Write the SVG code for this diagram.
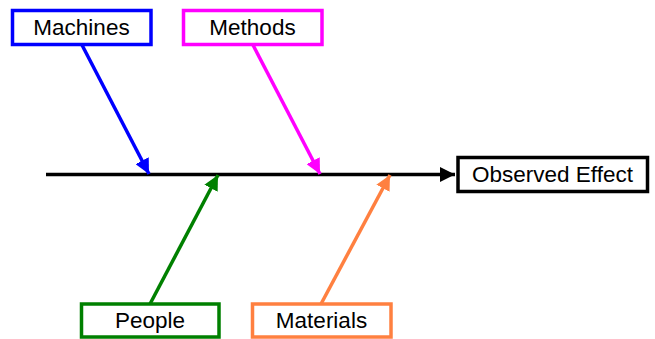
<svg xmlns="http://www.w3.org/2000/svg" width="655" height="339" viewBox="0 0 655 339">
<defs>
<style>
.box{fill:#fff;stroke-width:3.5}
.lbl{font-family:"Liberation Sans",Arial,sans-serif;font-size:22.5px;fill:#000;text-anchor:middle}
.conn{fill:none;stroke-width:3.5}
</style>
<marker id="aK" markerUnits="userSpaceOnUse" markerWidth="15" markerHeight="15" refX="15" refY="7.5" orient="auto"><path d="M0,0 L15,7.5 L0,15 z" fill="#000"/></marker>
<marker id="aB" markerUnits="userSpaceOnUse" markerWidth="15" markerHeight="15" refX="15" refY="7.5" orient="auto"><path d="M0,0 L15,7.5 L0,15 z" fill="#0000FF"/></marker>
<marker id="aM" markerUnits="userSpaceOnUse" markerWidth="15" markerHeight="15" refX="15" refY="7.5" orient="auto"><path d="M0,0 L15,7.5 L0,15 z" fill="#FF00FF"/></marker>
<marker id="aG" markerUnits="userSpaceOnUse" markerWidth="15" markerHeight="15" refX="15" refY="7.5" orient="auto"><path d="M0,0 L15,7.5 L0,15 z" fill="#008000"/></marker>
<marker id="aO" markerUnits="userSpaceOnUse" markerWidth="15" markerHeight="15" refX="15" refY="7.5" orient="auto"><path d="M0,0 L15,7.5 L0,15 z" fill="#FF8040"/></marker>
</defs>
<g id="connectors">
<line class="conn" x1="46" y1="174.5" x2="455" y2="174.5" stroke="#000" marker-end="url(#aK)"/>
<line class="conn" x1="82" y1="45" x2="149" y2="174" stroke="#0000FF" marker-end="url(#aB)"/>
<line class="conn" x1="253" y1="45" x2="320" y2="174" stroke="#FF00FF" marker-end="url(#aM)"/>
<line class="conn" x1="150" y1="304" x2="218" y2="175" stroke="#008000" marker-end="url(#aG)"/>
<line class="conn" x1="321" y1="304" x2="390" y2="175" stroke="#FF8040" marker-end="url(#aO)"/>
</g>
<g id="machines">
<rect class="box" x="12.5" y="10.5" width="138.5" height="34" stroke="#0000FF"/>
<text class="lbl" x="81.5" y="35">Machines</text>
</g>
<g id="methods">
<rect class="box" x="183.5" y="10.5" width="138.5" height="34" stroke="#FF00FF"/>
<text class="lbl" x="252.5" y="35">Methods</text>
</g>
<g id="observed-effect">
<rect class="box" x="458" y="157.5" width="189.5" height="34" stroke="#000"/>
<text class="lbl" x="552.5" y="181.5">Observed Effect</text>
</g>
<g id="people">
<rect class="box" x="81.5" y="304" width="137.5" height="33" stroke="#008000"/>
<text class="lbl" x="150" y="327.5">People</text>
</g>
<g id="materials">
<rect class="box" x="252.5" y="304" width="138.5" height="33" stroke="#FF8040"/>
<text class="lbl" x="321.5" y="327.5">Materials</text>
</g>
</svg>
